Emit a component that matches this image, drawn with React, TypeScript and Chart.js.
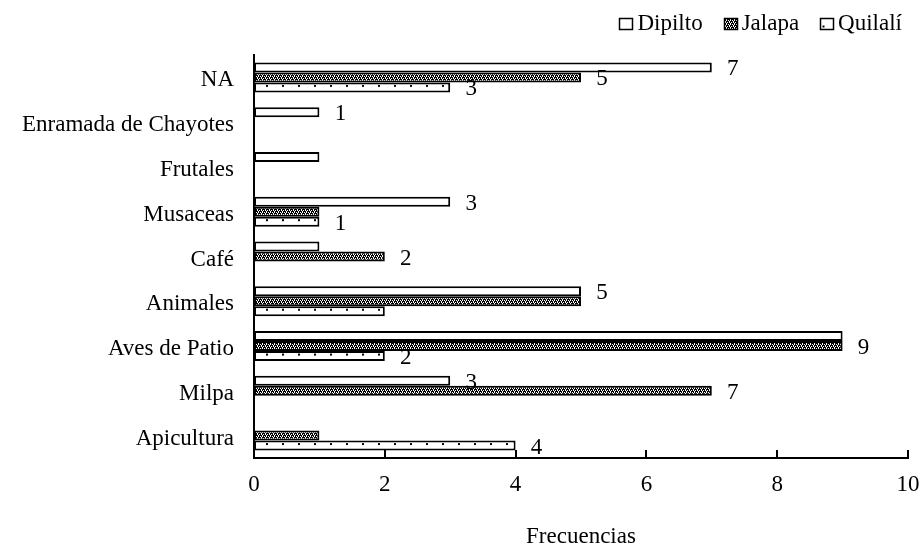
import React, { useEffect, useRef } from 'react';
import { Chart, registerables } from 'chart.js';

Chart.register(...registerables);

// ---- data ----
const categories = [
  'NA',
  'Enramada de Chayotes',
  'Frutales',
  'Musaceas',
  'Café',
  'Animales',
  'Aves de Patio',
  'Milpa',
  'Apicultura',
];
const seriesNames = ['Dipilto', 'Jalapa', 'Quilalí'];
const dipilto = [7, 1, 1, 3, 1, 5, 9, 3, 0];
const jalapa = [5, 0, 0, 1, 2, 5, 9, 7, 1];
const quilali = [3, 0, 0, 1, 0, 2, 2, 0, 4];
// which value labels are printed in the reference
const dipiltoLabelShown = [true, true, false, true, false, true, false, true, false];
const jalapaLabelShown = [true, false, false, false, true, false, true, true, false];
const quilaliLabelShown = [true, false, false, true, false, false, true, false, true];
const xMin = 0;
const xMax = 10;
const xStep = 2;
const xTitle = 'Frecuencias';

const FONT_FAMILY = '"Liberation Serif", "Times New Roman", serif';
const FONT_SIZE = 23;

function makeChecker(ctx: CanvasRenderingContext2D): CanvasPattern | string {
  const c = document.createElement('canvas');
  c.width = 4;
  c.height = 4;
  const g = c.getContext('2d')!;
  g.fillStyle = '#000000';
  g.fillRect(0, 0, 4, 4);
  g.fillStyle = '#ffffff';
  g.fillRect(0, 0, 1, 1);
  g.fillRect(2, 0, 1, 1);
  g.fillRect(1, 1, 1, 1);
  g.fillRect(3, 2, 1, 1);
  g.fillRect(1, 2, 1, 1);
  g.fillRect(2, 3, 1, 1);
  return ctx.createPattern(c, 'repeat') || '#555';
}

let dotCache: { key: string; pat: CanvasPattern | string } | null = null;
function makeDots(ctx: CanvasRenderingContext2D, top: number, spacing: number): CanvasPattern | string {
  const key = `${top}|${spacing}`;
  if (dotCache && dotCache.key === key) return dotCache.pat;
  const H = Math.round(spacing);
  const c = document.createElement('canvas');
  c.width = 16;
  c.height = H;
  const g = c.getContext('2d')!;
  g.fillStyle = '#ffffff';
  g.fillRect(0, 0, 16, H);
  g.fillStyle = '#000000';
  // a dot roughly in the upper-middle of the third bar slot of each category
  const dotY = Math.round(spacing / 2 + spacing * 0.67 / 3) - 2;
  g.fillRect(10, dotY, 2, 2);
  const p = ctx.createPattern(c, 'repeat');
  if (!p) return '#fff';
  try {
    p.setTransform(new DOMMatrix([1, 0, 0, spacing / H, 0, top]));
  } catch (e) {
    /* ignore */
  }
  dotCache = { key, pat: p };
  return p;
}

export default function App() {
  const ref = useRef<HTMLCanvasElement>(null);

  useEffect(() => {
    const canvas = ref.current!;
    const ctx = canvas.getContext('2d')!;
    const checker = makeChecker(ctx);

    const shown = [dipiltoLabelShown, jalapaLabelShown, quilaliLabelShown];

    const valueLabels = {
      id: 'valueLabels',
      afterDatasetsDraw(chart: any) {
        const c = chart.ctx as CanvasRenderingContext2D;
        c.save();
        c.font = `${FONT_SIZE}px ${FONT_FAMILY}`;
        c.fillStyle = '#000';
        c.textAlign = 'center';
        c.textBaseline = 'middle';
        chart.data.datasets.forEach((ds: any, di: number) => {
          const meta = chart.getDatasetMeta(di);
          meta.data.forEach((el: any, i: number) => {
            if (!shown[di][i]) return;
            const { x, y } = el.getProps(['x', 'y'], true);
            c.fillText(String(ds.data[i]), x + 21, y + 2);
          });
        });
        c.restore();
      },
    };

    const innerTicks = {
      id: 'innerTicks',
      afterDraw(chart: any) {
        const xs = chart.scales.x;
        const c = chart.ctx as CanvasRenderingContext2D;
        const y0 = chart.chartArea.bottom;
        c.save();
        c.strokeStyle = '#000';
        c.lineWidth = 2;
        xs.ticks.forEach((t: any) => {
          const px = Math.round(xs.getPixelForValue(t.value));
          c.beginPath();
          c.moveTo(px, y0);
          c.lineTo(px, y0 - 8);
          c.stroke();
        });
        c.restore();
      },
    };

    const legendPlugin = {
      id: 'seriesLegend',
      afterDraw(chart: any) {
        const c = chart.ctx as CanvasRenderingContext2D;
        c.save();
        c.font = `${FONT_SIZE}px ${FONT_FAMILY}`;
        const boxW = 13;
        const boxH = 11;
        const gapText = 5;
        const gapItem = 21;
        const names = chart.data.datasets.map((d: any) => d.label as string);
        const widths = names.map((n: string) => boxW + gapText + c.measureText(n).width);
        const total = widths.reduce((a: number, b: number) => a + b, 0) + gapItem * (names.length - 1);
        let x = 902 - total;
        const cy = 23;
        names.forEach((n: string, i: number) => {
          const bx = Math.round(x) + 0.5;
          const by = Math.round(cy - boxH / 2) + 0.5;
          c.fillStyle = i === 1 ? (checker as any) : '#fff';
          c.fillRect(bx, by, boxW, boxH);
          if (i === 2) {
            c.fillStyle = '#000';
            c.fillRect(bx + 2, by + boxH - 4, 2, 2);
          }
          c.strokeStyle = '#000';
          c.lineWidth = 1.5;
          c.strokeRect(bx, by, boxW, boxH);
          c.fillStyle = '#000';
          c.textAlign = 'left';
          c.textBaseline = 'middle';
          c.fillText(n, x + boxW + gapText, cy + 1);
          x += widths[i] + gapItem;
        });
        c.restore();
      },
    };

    const dotsFill = (sc: any) => {
      const ch = sc.chart;
      const area = ch.chartArea;
      if (!area) return '#fff';
      return makeDots(ch.ctx, area.top, (area.bottom - area.top) / categories.length);
    };

    const common = {
      borderColor: '#000',
      borderWidth: 2,
      borderSkipped: false,
      categoryPercentage: 0.67,
      barPercentage: 1.0,
    };

    const chart = new Chart(canvas, {
      type: 'bar',
      data: {
        labels: categories,
        datasets: [
          { ...common, label: seriesNames[0], data: dipilto, backgroundColor: '#ffffff' },
          { ...common, label: seriesNames[1], data: jalapa, backgroundColor: checker as any },
          { ...common, label: seriesNames[2], data: quilali, backgroundColor: dotsFill as any },
        ],
      } as any,
      options: {
        indexAxis: 'y',
        responsive: false,
        animation: false,
        devicePixelRatio: 1,
        layout: { padding: { top: 55, right: 14, left: 0, bottom: 0 } },
        plugins: {
          legend: { display: false },
          tooltip: { enabled: false },
        },
        font: { family: FONT_FAMILY, size: FONT_SIZE },
        scales: {
          x: {
            type: 'linear',
            position: 'bottom',
            min: xMin,
            max: xMax,
            ticks: {
              stepSize: xStep,
              color: '#000',
              padding: 13,
              font: { family: FONT_FAMILY, size: FONT_SIZE },
            },
            grid: { display: false, drawTicks: false },
            border: { display: true, color: '#000', width: 2 },
            title: {
              display: true,
              text: xTitle,
              color: '#000',
              font: { family: FONT_FAMILY, size: FONT_SIZE },
              padding: { top: 0, bottom: -3 },
            },
            afterFit: (s: any) => {
              s.height = 90;
              s.paddingRight = 0;
              s.paddingLeft = 0;
            },
          },
          y: {
            type: 'category',
            ticks: {
              color: '#000',
              padding: 20,
              labelOffset: 3,
              font: { family: FONT_FAMILY, size: FONT_SIZE },
            },
            grid: { display: false, drawTicks: false },
            border: { display: true, color: '#000', width: 2 },
            afterFit: (s: any) => {
              s.width = 254;
              s.paddingTop = 0;
              s.paddingBottom = 0;
            },
          },
        },
      } as any,
      plugins: [valueLabels, innerTicks, legendPlugin],
    });

    return () => chart.destroy();
  }, []);

  return (
    <div style={{ position: 'absolute', left: 0, top: 0, width: 922, height: 548, background: '#fff' }}>
      <canvas ref={ref} width={922} height={548} style={{ display: 'block' }} />
    </div>
  );
}
